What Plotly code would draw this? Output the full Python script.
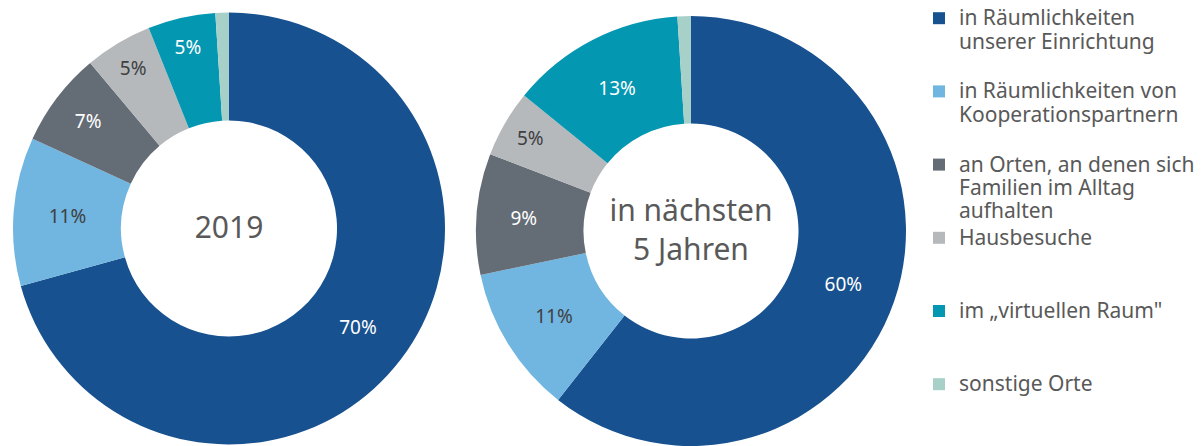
import plotly.graph_objects as go

categories = [
    "in Räumlichkeiten\nunserer Einrichtung",
    "in Räumlichkeiten von\nKooperationspartnern",
    "an Orten, an denen sich\nFamilien im Alltag\naufhalten",
    "Hausbesuche",
    "im „virtuellen Raum\"",
    "sonstige Orte",
]
values_2019 = [70, 11, 7, 5, 5, 1]
values_5j = [60, 11, 9, 5, 13, 1]
show_label = [True, True, True, True, True, False]
titles = ["2019", "in nächsten<br>5 Jahren"]

colors = ["#17518F", "#70B6E0", "#646C76", "#B5B9BC", "#0397B2", "#A6D0C8"]
label_colors = ["#FFFFFF", "#404040", "#FFFFFF", "#404040", "#FFFFFF", "#FFFFFF"]
FONT = "Noto Sans"


def legend_text(cat, n_lines=3, size=21):
    lines = cat.split("\n")
    lines = lines + [" "] * (n_lines - len(lines))
    return "<br>".join(f"<span style='font-size:{size}px'>{l}</span>" for l in lines)


# every entry padded to the same height, except the last (no trailing space needed)
legend_labels = [
    legend_text(c, n_lines=(3 if i < len(categories) - 1 else 1))
    for i, c in enumerate(categories)
]
tmpl = ["%{value}%" if s else "" for s in show_label]

fig = go.Figure()
for vals, title, dom in [
    (values_2019, titles[0], dict(x=[13 / 1204, 445 / 1204], y=[1.5 / 446, 433.5 / 446])),
    (values_5j, titles[1], dict(x=[476 / 1204, 906 / 1204], y=[0.0, 430 / 446])),
]:
    fig.add_trace(go.Pie(
        labels=legend_labels,
        values=vals,
        hole=0.5,
        sort=False,
        direction="clockwise",
        rotation=0,
        domain=dom,
        marker=dict(colors=colors, line=dict(width=0)),
        texttemplate=tmpl,
        textposition="inside",
        insidetextorientation="horizontal",
        insidetextfont=dict(family=FONT, size=19, color=label_colors),
        title=dict(text=title, position="middle center",
                   font=dict(family=FONT, size=30, color="#595959")),
        hoverinfo="skip",
    ))

fig.update_layout(
    width=1204,
    height=446,
    margin=dict(l=0, r=0, t=0, b=0),
    paper_bgcolor="white",
    plot_bgcolor="white",
    showlegend=True,
    legend=dict(
        x=919 / 1204, y=1, xanchor="left", yanchor="top",
        font=dict(family=FONT, size=18, color="#595959"),
        valign="top",
        bgcolor="rgba(0,0,0,0)",
        traceorder="normal",
    ),
)

fig.write_html(
    "out.html",
    config={"displayModeBar": False},
    post_script="document.body.style.margin='0';document.body.style.overflow='hidden';",
)
